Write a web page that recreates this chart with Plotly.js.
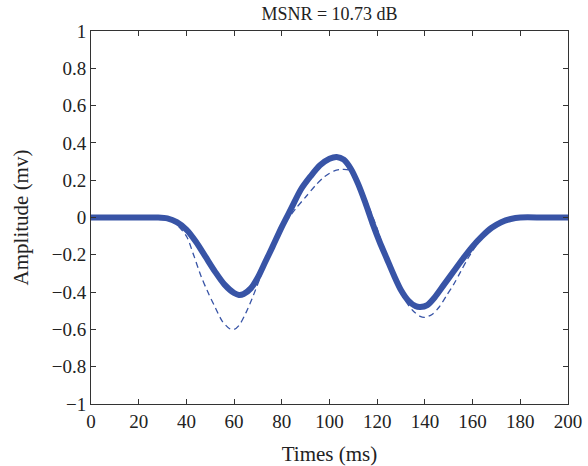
<!DOCTYPE html>
<html>
<head>
<meta charset="utf-8">
<script src="https://cdn.plot.ly/plotly-3.0.1.min.js"></script>
<style>html,body{margin:0;padding:0;background:#fff}#chart{width:588px;height:466px}</style>
</head>
<body>
<div id="chart"></div>
<script>
const solidX = [0,10,20,28,32,36,40,44,48,52,56,60,62,64,67,70,73,76,80,84,88,92,96,100,103,106,109,112,115,118,121,124,127,130,133,136,138,141,144,148,152,156,160,164,168,172,176,180,190,200];
const solidY = [0,0,0,0,-0.005,-0.025,-0.065,-0.13,-0.21,-0.29,-0.36,-0.405,-0.415,-0.41,-0.38,-0.32,-0.24,-0.16,-0.05,0.05,0.15,0.22,0.28,0.315,0.325,0.31,0.26,0.18,0.08,-0.03,-0.13,-0.22,-0.31,-0.39,-0.445,-0.475,-0.48,-0.47,-0.43,-0.36,-0.29,-0.22,-0.155,-0.10,-0.055,-0.025,-0.008,0,0,0];
const dashX = [0,10,20,28,32,36,40,43,46,49,52,55,58,60,62,65,68,71,74,77,80,83,86,90,94,98,102,105,108,111,114,117,120,123,126,129,132,135,138,140,143,146,149,152,155,158,162,164,168,172,176,180,190,200];
const dashY = [0,0,0,0,-0.01,-0.04,-0.10,-0.20,-0.31,-0.40,-0.48,-0.555,-0.595,-0.60,-0.58,-0.51,-0.42,-0.32,-0.22,-0.13,-0.05,0.0,0.05,0.11,0.17,0.22,0.25,0.258,0.255,0.22,0.14,0.04,-0.06,-0.18,-0.29,-0.38,-0.45,-0.50,-0.53,-0.535,-0.52,-0.48,-0.42,-0.36,-0.29,-0.22,-0.14,-0.10,-0.055,-0.025,-0.008,0,0,0];
const titleText = 'MSNR = 10.73 dB';
const xTitle = 'Times (ms)';
const yTitle = 'Amplitude (mv)';

const col = 'rgb(56,84,166)';
const fam = 'Liberation Serif';
const tickFont = {family: fam, size: 19, color: '#222'};
const axTitleFont = {family: fam, size: 21, color: '#222'};
const mainTitleFont = {family: fam, size: 18, color: '#222'};
const traces = [
  {x: dashX, y: dashY, mode: 'lines', line: {color: col, width: 1.3, dash: '6px,4px', shape: 'spline', smoothing: 0.8}, hoverinfo: 'skip'},
  {x: solidX, y: solidY, mode: 'lines', line: {color: col, width: 6, shape: 'spline', smoothing: 0.8}, hoverinfo: 'skip'}
];
const axisCommon = {
  showgrid: false, zeroline: false, showline: true, linecolor: '#333', linewidth: 1,
  mirror: 'ticks', ticks: 'inside', ticklen: 5, tickcolor: '#333', tickwidth: 1,
  tickfont: tickFont
};
const layout = {
  width: 588, height: 466,
  margin: {l: 91, r: 20, t: 31, b: 62},
  paper_bgcolor: '#fff', plot_bgcolor: '#fff',
  showlegend: false,
  font: tickFont,
  title: {text: titleText, font: mainTitleFont, x: 0.5, xanchor: 'center', xref: 'paper', y: 0.97, yanchor: 'middle'},
  xaxis: Object.assign({}, axisCommon, {range: [0, 200], tickmode: 'linear', tick0: 0, dtick: 20, title: {text: xTitle, font: axTitleFont, standoff: 15}}),
  yaxis: Object.assign({}, axisCommon, {range: [-1, 1], tickmode: 'linear', tick0: -1, dtick: 0.2, title: {text: yTitle, font: axTitleFont, standoff: 17}})
};
Plotly.newPlot('chart', traces, layout, {displayModeBar: false, staticPlot: true});
</script>
</body>
</html>
